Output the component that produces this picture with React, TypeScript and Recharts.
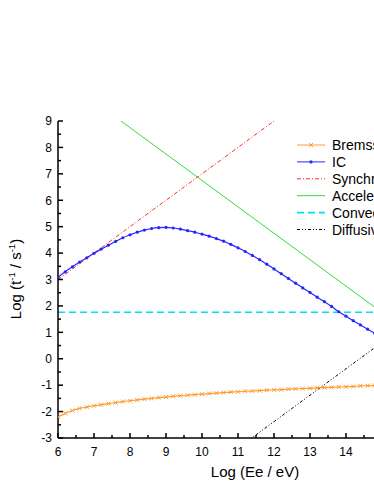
import React from 'react';
import { LineChart, Line, XAxis, YAxis } from 'recharts';

// electron energy grid (log eV) used by the two computed curves
const energyGrid = [
  6.0, 6.2, 6.4, 6.6, 6.8, 7.0, 7.2, 7.4, 7.6, 7.8, 8.0, 8.2, 8.4, 8.6, 8.8,
  9.0, 9.2, 9.4, 9.6, 9.8, 10.0, 10.2, 10.4, 10.6, 10.8, 11.0, 11.2, 11.4, 11.6, 11.8,
  12.0, 12.2, 12.4, 12.6, 12.8, 13.0, 13.2, 13.4, 13.6, 13.8, 14.0, 14.2, 14.4, 14.6, 14.8, 15.0,
];

const bremsRate = [
  -2.2, -2.07, -1.96, -1.88, -1.83, -1.78, -1.74, -1.7, -1.66, -1.62, -1.59, -1.56, -1.53, -1.5, -1.47,
  -1.45, -1.42, -1.4, -1.38, -1.36, -1.34, -1.32, -1.3, -1.28, -1.26, -1.25, -1.23, -1.22, -1.21, -1.19,
  -1.18, -1.17, -1.15, -1.14, -1.13, -1.12, -1.1, -1.09, -1.08, -1.07, -1.06, -1.05, -1.03, -1.02, -1.01, -1.0,
];

const icRate = [
  3.08, 3.29, 3.48, 3.66, 3.82, 3.99, 4.15, 4.3, 4.44, 4.58, 4.69, 4.79, 4.87, 4.93, 4.96,
  4.97, 4.95, 4.91, 4.85, 4.79, 4.72, 4.64, 4.55, 4.45, 4.33, 4.2, 4.06, 3.91, 3.75, 3.58,
  3.4, 3.22, 3.04, 2.86, 2.68, 2.51, 2.33, 2.16, 1.98, 1.78, 1.61, 1.44, 1.28, 1.12, 0.96, 0.8,
];

const synchrotronE = [6, 15];
const synchrotronRate = [3.0, 12.0];
const accelerationE = [6, 15];
const accelerationRate = [10.75, 1.75];
const convectionE = [6, 17];
const convectionRate = [1.76, 1.76];
const diffusiveE = [11, 15];
const diffusiveRate = [-3.38, 0.62];

const xTicks = [6, 6.5, 7, 7.5, 8, 8.5, 9, 9.5, 10, 10.5, 11, 11.5, 12, 12.5, 13, 13.5, 14, 14.5, 15, 15.5, 16, 16.5, 17];
const xLabels = [6, 7, 8, 9, 10, 11, 12, 13, 14];
const yTicks = [-3, -2.5, -2, -1.5, -1, -0.5, 0, 0.5, 1, 1.5, 2, 2.5, 3, 3.5, 4, 4.5, 5, 5.5, 6, 6.5, 7, 7.5, 8, 8.5, 9];

const FONT = '"Liberation Sans", Arial, sans-serif';

const toPoints = (xs: number[], ys: number[]) => xs.map((e, i) => ({ e, rate: ys[i] }));

const COLORS = {
  brems: '#ff9a2e',
  ic: '#2626ff',
  sync: '#ff2a2a',
  acc: '#33dd33',
  conv: '#00e0f0',
  diff: '#000000',
};

const legendItems = [
  { name: 'Bremsstrahlung', color: COLORS.brems, dash: undefined, width: 1, marker: 'x' },
  { name: 'IC', color: COLORS.ic, dash: undefined, width: 1, marker: 'dot' },
  { name: 'Synchrotron', color: COLORS.sync, dash: '4 2 1 2', width: 1, marker: '' },
  { name: 'Acceleration', color: COLORS.acc, dash: undefined, width: 1, marker: '' },
  { name: 'Convection', color: COLORS.conv, dash: '7 4', width: 1.6, marker: '' },
  { name: 'Diffusive', color: COLORS.diff, dash: '3 2 1 2 1 2', width: 1, marker: '' },
];

const CrossDot = (props: any) => {
  const { cx, cy, index } = props;
  if (cx == null || cy == null) return <g key={`bx-${index}`} />;
  const s = 2;
  return (
    <path
      key={`bx-${index}`}
      d={`M${cx - s},${cy - s}L${cx + s},${cy + s}M${cx - s},${cy + s}L${cx + s},${cy - s}`}
      stroke={COLORS.brems}
      strokeWidth={1}
      fill="none"
    />
  );
};

const BlueDot = (props: any) => {
  const { cx, cy, index } = props;
  if (cx == null || cy == null) return <g key={`ic-${index}`} />;
  return <circle key={`ic-${index}`} cx={cx} cy={cy} r={1.6} fill={COLORS.ic} stroke="none" />;
};

const BottomTick = (props: any) => {
  const { x, y, payload } = props;
  const v = payload.value;
  const major = Number.isInteger(v);
  return (
    <g>
      <line x1={x} x2={x} y1={y} y2={y - (major ? 5 : 3)} stroke="#000" strokeWidth={1.5} />
      {xLabels.includes(v) && (
        <text x={x} y={y + 17.5} textAnchor="middle" fontSize={12} fontFamily={FONT} fill="#000">
          {v}
        </text>
      )}
    </g>
  );
};

const TopTick = (props: any) => {
  const { x, y, payload } = props;
  const major = Number.isInteger(payload.value);
  return <line x1={x} x2={x} y1={y} y2={y + (major ? 5 : 3)} stroke="#000" strokeWidth={1.5} />;
};

const LeftTick = (props: any) => {
  const { x, y, payload } = props;
  const v = payload.value;
  const major = Number.isInteger(v);
  return (
    <g>
      <line x1={x} x2={x + (major ? 5 : 3)} y1={y} y2={y} stroke="#000" strokeWidth={1.5} />
      {major && (
        <text x={x - 6} y={y + 4.3} textAnchor="end" fontSize={12} fontFamily={FONT} fill="#000">
          {v}
        </text>
      )}
    </g>
  );
};

function Overlay() {
  return (
    <svg
      width={374}
      height={484}
      style={{ position: 'absolute', left: 0, top: 0, pointerEvents: 'none' }}
      fontFamily={FONT}
    >
      <text x={255} y={477} textAnchor="middle" fontSize={15} fill="#000">
        Log (Ee / eV)
      </text>
      <text x={21} y={279} textAnchor="middle" fontSize={15} fill="#000" transform="rotate(-90 21 279)">
        Log (t<tspan fontSize={9.5} dy={-6}>-1</tspan>
        <tspan dy={6}> / s</tspan>
        <tspan fontSize={9.5} dy={-6}>-1</tspan>
        <tspan dy={6}>)</tspan>
      </text>
      {legendItems.map((item, i) => {
        const cy = 145 + i * 16.9;
        return (
          <g key={item.name}>
            <line
              x1={297}
              x2={325}
              y1={cy}
              y2={cy}
              stroke={item.color}
              strokeWidth={item.width}
              strokeDasharray={item.dash}
            />
            {item.marker === 'x' && (
              <path
                d={`M${309},${cy - 2}L${313},${cy + 2}M${309},${cy + 2}L${313},${cy - 2}`}
                stroke={item.color}
                strokeWidth={1}
              />
            )}
            {item.marker === 'dot' && <circle cx={311} cy={cy} r={1.6} fill={item.color} />}
            <text x={332} y={cy + 5} fontSize={14} fill="#000">
              {item.name}
            </text>
          </g>
        );
      })}
    </svg>
  );
}

export default function App() {
  return (
    <div
      style={{
        position: 'absolute',
        left: 0,
        top: 0,
        width: 374,
        height: 484,
        overflow: 'hidden',
        background: '#fff',
      }}
    >
      <LineChart width={480} height={484} margin={{ top: 121, right: 26, bottom: 0, left: 0 }}>
        <XAxis
          type="number"
          dataKey="e"
          domain={[6, 17]}
          ticks={xTicks}
          interval={0}
          allowDataOverflow
          height={46}
          tickSize={0}
          tickMargin={0}
          tickLine={false}
          tick={BottomTick}
          axisLine={{ stroke: '#000', strokeWidth: 1.5 }}
        />
        <XAxis
          xAxisId="top"
          orientation="top"
          type="number"
          domain={[6, 17]}
          ticks={xTicks}
          interval={0}
          allowDataOverflow
          height={0}
          tickSize={0}
          tickMargin={0}
          tickLine={false}
          tick={TopTick}
          axisLine={{ stroke: '#000', strokeWidth: 1.5 }}
        />
        <YAxis
          type="number"
          domain={[-3, 9]}
          ticks={yTicks}
          interval={0}
          allowDataOverflow
          width={58}
          tickSize={0}
          tickMargin={0}
          tickLine={false}
          tick={LeftTick}
          axisLine={{ stroke: '#000', strokeWidth: 1.5 }}
        />
        <Line
          data={toPoints(convectionE, convectionRate)}
          dataKey="rate"
          stroke={COLORS.conv}
          strokeWidth={1.6}
          strokeDasharray="7 4"
          dot={false}
          isAnimationActive={false}
        />
        <Line
          data={toPoints(accelerationE, accelerationRate)}
          dataKey="rate"
          stroke={COLORS.acc}
          strokeWidth={1}
          dot={false}
          isAnimationActive={false}
        />
        <Line
          data={toPoints(synchrotronE, synchrotronRate)}
          dataKey="rate"
          stroke={COLORS.sync}
          strokeWidth={1}
          strokeDasharray="4 2 1 2"
          dot={false}
          isAnimationActive={false}
        />
        <Line
          data={toPoints(diffusiveE, diffusiveRate)}
          dataKey="rate"
          stroke={COLORS.diff}
          strokeWidth={1}
          strokeDasharray="3 2 1 2 1 2"
          dot={false}
          isAnimationActive={false}
        />
        <Line
          data={toPoints(energyGrid, bremsRate)}
          dataKey="rate"
          type="monotone"
          stroke={COLORS.brems}
          strokeWidth={1.2}
          dot={CrossDot}
          isAnimationActive={false}
        />
        <Line
          data={toPoints(energyGrid, icRate)}
          dataKey="rate"
          type="monotone"
          stroke={COLORS.ic}
          strokeWidth={1.2}
          dot={BlueDot}
          isAnimationActive={false}
        />
      </LineChart>
      <Overlay />
    </div>
  );
}
